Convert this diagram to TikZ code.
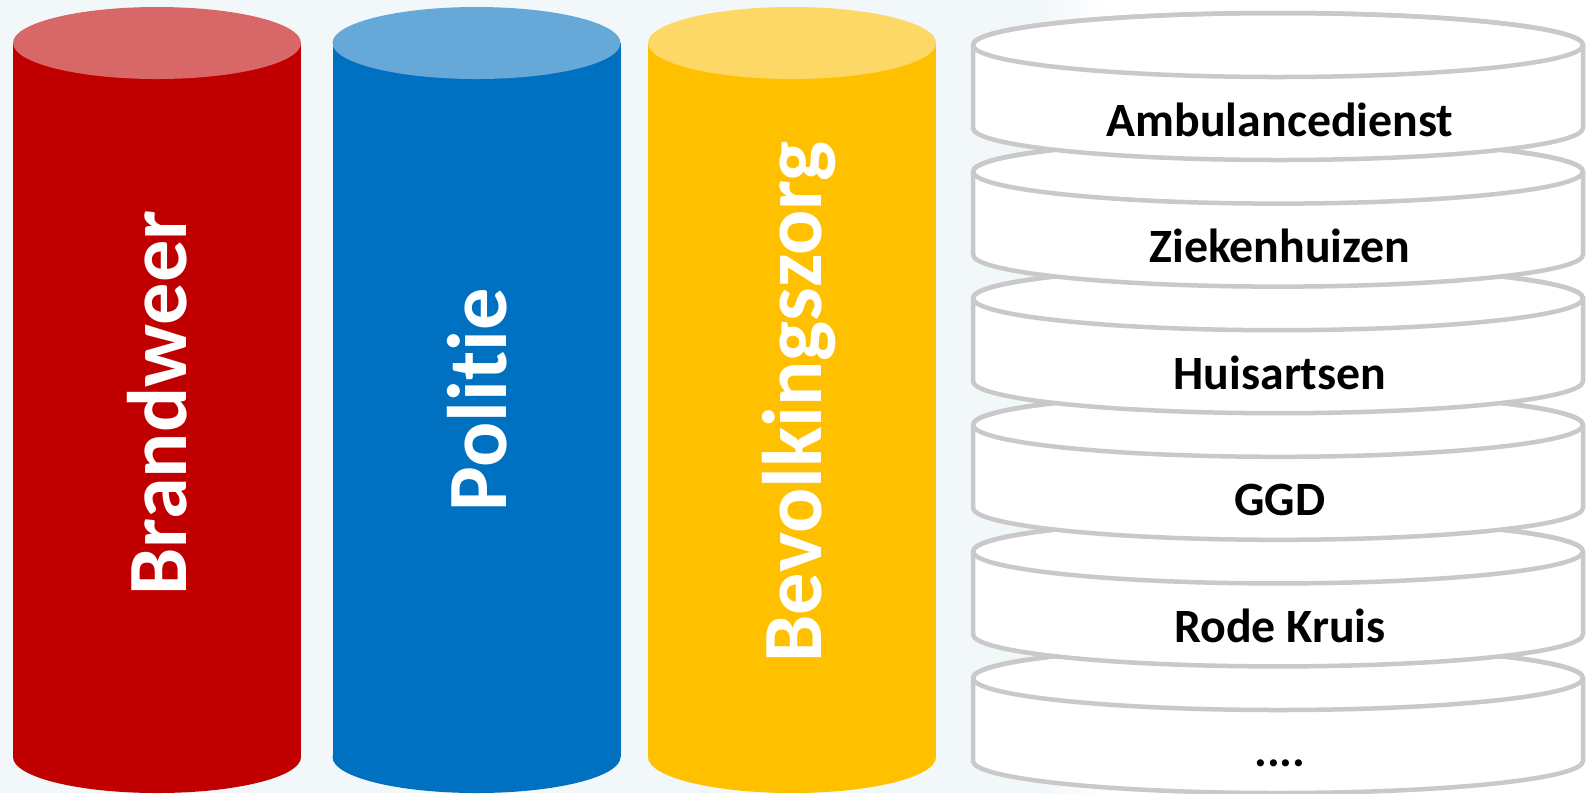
\documentclass[tikz,border=0pt]{standalone}
\usepackage{fontspec}
\setmainfont[Ligatures=NoCommon]{Carlito}
\definecolor{bgblue}{HTML}{F2F7FA}
\definecolor{cred}{HTML}{C00000}
\definecolor{credtop}{HTML}{D86868}
\definecolor{cblue}{HTML}{0070C0}
\definecolor{cbluetop}{HTML}{66A8D8}
\definecolor{cyellow}{HTML}{FFC000}
\definecolor{cyellowtop}{HTML}{FDD866}
\definecolor{discgray}{HTML}{C9C9C9}
\newcommand{\mycyl}[3]{%
  \fill[#2] (#1-144,43) rectangle (#1+144,757);
  \fill[#2] (#1,757) ellipse[x radius=144, y radius=36];
  \fill[#3] (#1,43) ellipse[x radius=144, y radius=36];
}
\newcommand{\mydisc}[1]{%
  \filldraw[discstroke, fill=white] (973,#1) -- (973,#1+83)
     arc[start angle=180, end angle=0, x radius=305, y radius=32]
     -- (1583,#1)
     arc[start angle=0, end angle=-180, x radius=305, y radius=32] -- cycle;
  \draw[discstroke] (1278,#1) ellipse[x radius=305, y radius=32];
}
\begin{document}
\begin{tikzpicture}[x=0.01cm,y=-0.01cm,
  discstroke/.style={draw=discgray, line width=0.045cm, line join=round},
  pillar/.style={rotate=90, text=white, font=\bfseries\fontsize{24}{28}\selectfont, inner sep=0pt},
  disclabel/.style={anchor=base, text=black, font=\bfseries\fontsize{13.6}{16}\selectfont, inner sep=0pt}]
\useasboundingbox (0,0) rectangle (1587,793);
\fill[white] (0,0) rectangle (1587,793);
\fill[bgblue] (0,0) rectangle (1040,793);
\shade[left color=bgblue, right color=white] (1040,0) rectangle (1110,793);
% pillars
\mycyl{157}{cred}{credtop}
\mycyl{476.5}{cblue}{cbluetop}
\mycyl{792}{cyellow}{cyellowtop}
\node[pillar] (brandweer) at (157,403) {Brandweer};
\node[pillar] (politie) at (477,400) {Politie};
\node[pillar] (bevolking) at (799,402) {Bevolkingszorg};
% stacked discs, bottom first
\mydisc{678}
\mydisc{551.4}
\mydisc{424.8}
\mydisc{298.2}
\mydisc{171.6}
\mydisc{45}
\node[disclabel] (amb) at (1280,136) {Ambulancedienst};
\node[disclabel] (zkh) at (1280,262.6) {Ziekenhuizen};
\node[disclabel] (ha) at (1280,389.2) {Huisartsen};
\node[disclabel] (ggd) at (1280,515.8) {GGD};
\node[disclabel] (rk) at (1280,642.4) {Rode Kruis};
\node[disclabel] (dots) at (1280,766) {....};
\end{tikzpicture}
\end{document}
